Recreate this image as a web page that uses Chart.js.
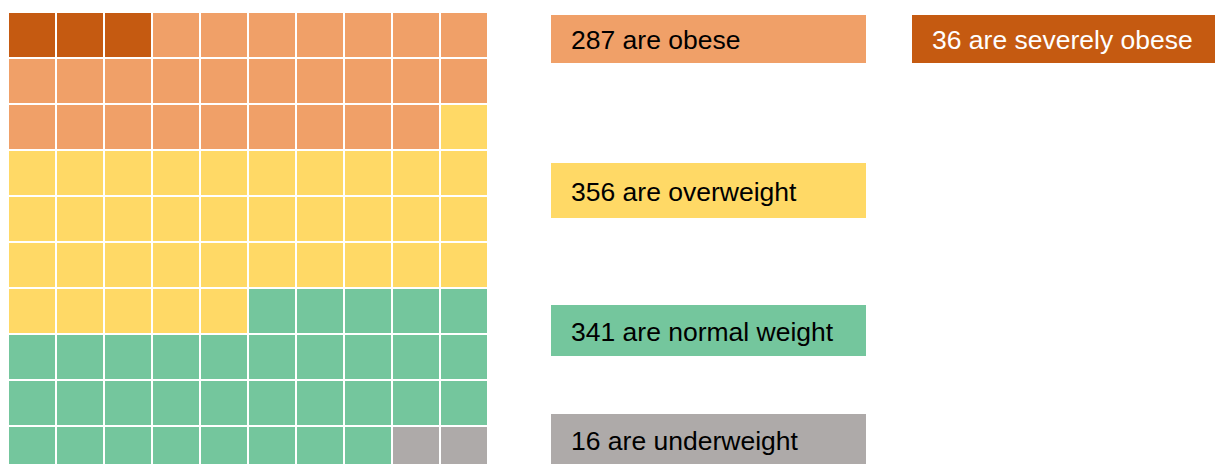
<!DOCTYPE html>
<html>
<head>
<meta charset="utf-8">
<script src="https://cdn.jsdelivr.net/npm/chart.js@4/dist/chart.umd.min.js"></script>
<style>
  html, body { margin: 0; padding: 0; background: #fff; overflow: hidden; width: 1215px; height: 464px; }
  #wrap { position: absolute; left: 0; top: 0; }
  .lbl { position: absolute; box-sizing: border-box; padding-left: 20px; padding-top: 3px; display: flex; align-items: center;
         font-family: "Liberation Sans", Arial, sans-serif; font-size: 26.5px; color: #000; white-space: nowrap; }
</style>
</head>
<body>
<div id="wrap"><canvas id="c" width="488" height="472"></canvas></div>
<div id="labels"></div>
<script>
// Categories in fill order (top-left, row by row)
const categories = ["severely obese", "obese", "overweight", "normal weight", "underweight"];
const people = [36, 287, 356, 341, 16];          // counts shown in the labels
const cells = [3, 26, 36, 33, 2];                 // squares per category
const colors = ["#C55A11", "#F0A068", "#FFD966", "#74C69D", "#AEAAA9"];
const textColors = ["#fff", "#000", "#000", "#000", "#000"];
const gridCols = 10, gridRows = 10;
const columnLabels = ["1","2","3","4","5","6","7","8","9","10"];

// Build cell colours row-major from the top-left
const cellColors = [];
categories.forEach((c, i) => { for (let k = 0; k < cells[i]; k++) cellColors.push(colors[i]); });

// One dataset per row; the first stacked dataset is at the bottom, so reverse row order
const datasets = [];
for (let r = gridRows - 1; r >= 0; r--) {
  datasets.push({
    label: "row " + (r + 1),
    data: columnLabels.map(() => 1),
    backgroundColor: columnLabels.map((_, col) => cellColors[r * gridCols + col]),
    borderColor: "#ffffff",
    borderWidth: 1,
    borderSkipped: false,
    inflateAmount: 0,
    barPercentage: 1,
    categoryPercentage: 1
  });
}

new Chart(document.getElementById("c"), {
  type: "bar",
  data: { labels: columnLabels, datasets },
  options: {
    responsive: false,
    animation: false,
    layout: { padding: { left: 8, top: 12, right: 0, bottom: 0 } },
    plugins: { legend: { display: false }, tooltip: { enabled: false } },
    scales: {
      x: { stacked: true, display: false },
      y: { stacked: true, display: false, min: 0, max: gridRows }
    }
  }
});

// Text labels
const labelBoxes = [
  { left: 912, top: 15, width: 303, height: 48 },
  { left: 551, top: 15, width: 315, height: 48 },
  { left: 551, top: 163, width: 315, height: 55 },
  { left: 551, top: 305, width: 315, height: 51 },
  { left: 551, top: 414, width: 315, height: 52 }
];
const host = document.getElementById("labels");
categories.forEach((c, i) => {
  const d = document.createElement("div");
  d.className = "lbl";
  const b = labelBoxes[i];
  d.style.left = b.left + "px"; d.style.top = b.top + "px";
  d.style.width = b.width + "px"; d.style.height = b.height + "px";
  d.style.background = colors[i]; d.style.color = textColors[i];
  d.textContent = people[i] + " are " + c;
  host.appendChild(d);
});
</script>
</body>
</html>
